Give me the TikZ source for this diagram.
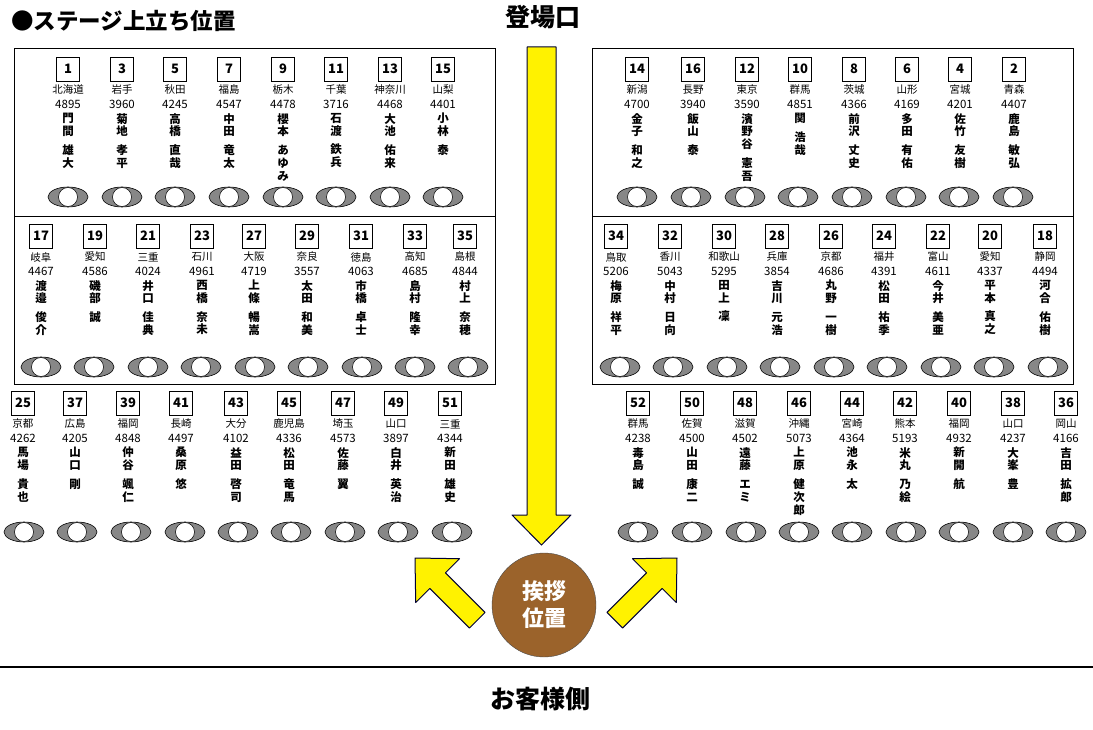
\documentclass[tikz,border=0pt]{standalone}
\usepackage{fontspec}
\setmainfont{Noto Sans CJK JP}
\begin{document}
\begin{tikzpicture}[x=1pt,y=-1pt,
 numbox/.style={draw,line width=0.8pt,minimum width=23pt,minimum height=24pt,inner sep=0pt,font=\fontsize{13}{13}\selectfont\bfseries},
 pref/.style={inner sep=0pt,font=\fontsize{10.5}{11}\selectfont},
 score/.style={inner sep=0pt,font=\fontsize{11.5}{11.5}\selectfont},
 nm/.style={inner sep=0pt,align=center,anchor=north,font=\fontsize{11.5}{12.8}\selectfont\bfseries},
 seat/.style={draw=black,fill=gray!95!black!90,line width=0.6pt},
 frame/.style={draw,line width=0.9pt},
 yarrow/.style={fill=yellow,draw=black!80!blue,line width=1pt,line join=round}]
\useasboundingbox (0,0) rectangle (1093,730);
\newcommand\Pl[7]{%
 \node[numbox] (b#3) at (#1,#2) {#3};
 \node[pref] (p#3) at (#1,#2+21) {#4};
 \node[score] (s#3) at (#1,#2+35) {#5};
 \node[nm] (n#3) at (#1,#2+44) {#6\\[6pt]#7};}
\newcommand\Seats[2]{\foreach \xx in {#1}{\draw[seat] (\xx,#2) ellipse (20 and 10); \fill[white,draw=black,line width=0.5pt] (\xx,#2) circle (9.5);}}
% frames
\draw[frame] (14,48) rectangle (495,384); \draw[frame] (14,216) -- (495,216);
\draw[frame] (592,48) rectangle (1073,384); \draw[frame] (592,216) -- (1073,216);
% row 1 left
\Pl{68}{69}{1}{北海道}{4895}{門\\間}{雄\\大}
\Pl{122}{69}{3}{岩手}{3960}{菊\\地}{孝\\平}
\Pl{175}{69}{5}{秋田}{4245}{高\\橋}{直\\哉}
\Pl{229}{69}{7}{福島}{4547}{中\\田}{竜\\太}
\Pl{283}{69}{9}{栃木}{4478}{櫻\\本}{あ\\ゆ\\み}
\Pl{336}{69}{11}{千葉}{3716}{石\\渡}{鉄\\兵}
\Pl{390}{69}{13}{神奈川}{4468}{大\\池}{佑\\来}
\Pl{443}{69}{15}{山梨}{4401}{小\\林}{泰}
% row 1 right
\Pl{637}{69}{14}{新潟}{4700}{金\\子}{和\\之}
\Pl{693}{69}{16}{長野}{3940}{飯\\山}{泰}
\Pl{747}{69}{12}{東京}{3590}{濱\\野\\谷}{憲\\吾}
\Pl{800}{69}{10}{群馬}{4851}{関}{浩\\哉}
\Pl{854}{69}{8}{茨城}{4366}{前\\沢}{丈\\史}
\Pl{907}{69}{6}{山形}{4169}{多\\田}{有\\佑}
\Pl{960}{69}{4}{宮城}{4201}{佐\\竹}{友\\樹}
\Pl{1014}{69}{2}{青森}{4407}{鹿\\島}{敏\\弘}
% row 2 left
\Pl{41}{236}{17}{岐阜}{4467}{渡\\邉}{俊\\介}
\Pl{95}{236}{19}{愛知}{4586}{磯\\部}{誠}
\Pl{148}{236}{21}{三重}{4024}{井\\口}{佳\\典}
\Pl{202}{236}{23}{石川}{4961}{西\\橋}{奈\\未}
\Pl{254}{236}{27}{大阪}{4719}{上\\條}{暢\\嵩}
\Pl{307}{236}{29}{奈良}{3557}{太\\田}{和\\美}
\Pl{361}{236}{31}{徳島}{4063}{市\\橋}{卓\\士}
\Pl{415}{236}{33}{高知}{4685}{島\\村}{隆\\幸}
\Pl{465}{236}{35}{島根}{4844}{村\\上}{奈\\穂}
% row 2 right
\Pl{616}{236}{34}{鳥取}{5206}{梅\\原}{祥\\平}
\Pl{670}{236}{32}{香川}{5043}{中\\村}{日\\向}
\Pl{724}{236}{30}{和歌山}{5295}{田\\上}{凜}
\Pl{777}{236}{28}{兵庫}{3854}{吉\\川}{元\\浩}
\Pl{831}{236}{26}{京都}{4686}{丸\\野}{一\\樹}
\Pl{884}{236}{24}{福井}{4391}{松\\田}{祐\\季}
\Pl{938}{236}{22}{富山}{4611}{今\\井}{美\\亜}
\Pl{990}{236}{20}{愛知}{4337}{平\\本}{真\\之}
\Pl{1045}{236}{18}{静岡}{4494}{河\\合}{佑\\樹}
% row 3 left
\Pl{23}{403}{25}{京都}{4262}{馬\\場}{貴\\也}
\Pl{75}{403}{37}{広島}{4205}{山\\口}{剛}
\Pl{128}{403}{39}{福岡}{4848}{仲\\谷}{颯\\仁}
\Pl{181}{403}{41}{長崎}{4497}{桑\\原}{悠}
\Pl{236}{403}{43}{大分}{4102}{益\\田}{啓\\司}
\Pl{289}{403}{45}{鹿児島}{4336}{松\\田}{竜\\馬}
\Pl{343}{403}{47}{埼玉}{4573}{佐\\藤}{翼}
\Pl{396}{403}{49}{山口}{3897}{白\\井}{英\\治}
\Pl{450}{403}{51}{三重}{4344}{新\\田}{雄\\史}
% row 3 right
\Pl{638}{403}{52}{群馬}{4238}{毒\\島}{誠}
\Pl{692}{403}{50}{佐賀}{4500}{山\\田}{康\\二}
\Pl{745}{403}{48}{滋賀}{4502}{遠\\藤}{エ\\ミ}
\Pl{799}{403}{46}{沖縄}{5073}{上\\原}{健\\次\\郎}
\Pl{852}{403}{44}{宮崎}{4364}{池\\永}{太}
\Pl{905}{403}{42}{熊本}{5193}{米\\丸}{乃\\絵}
\Pl{959}{403}{40}{福岡}{4932}{新\\開}{航}
\Pl{1013}{403}{38}{山口}{4237}{大\\峯}{豊}
\Pl{1066}{403}{36}{岡山}{4166}{吉\\田}{拡\\郎}
% seats
\Seats{68,122,175,229,283,336,390,443}{197}
\Seats{637,691,745,798,852,906,959,1013}{197}
\Seats{41,94,148,201,255,308,362,415,468}{367}
\Seats{620,673,727,780,834,887,941,994,1048}{367}
\Seats{24,77,131,185,238,291,345,398,452}{532}
\Seats{638,692,746,799,852,906,959,1013,1066}{532}
% arrows
\draw[yarrow] (527,47) -- (556,47) -- (556,515) -- (571,515) -- (541.5,545) -- (512,515) -- (527,515) -- cycle;
\begin{scope}[shift={(415,558)},rotate=-45]
\draw[yarrow] (0,0) -- (32,-31) -- (32,-11) -- (88,-11) -- (88,11) -- (32,11) -- (32,31) -- cycle;
\end{scope}
\begin{scope}[shift={(677,558)},rotate=-135]
\draw[yarrow] (0,0) -- (32,31) -- (32,11) -- (88,11) -- (88,-11) -- (32,-11) -- (32,-31) -- cycle;
\end{scope}
\node[circle,fill=brown!75!black!90!orange,draw=black!70,minimum size=104pt,inner sep=0pt,align=center,text=white,font=\fontsize{22}{27}\selectfont\bfseries] (aisatsu) at (544,605) {挨拶\\位置};
\draw[line width=1.3pt] (0,667) -- (1093,667);
\node[font=\fontsize{25}{25}\selectfont\bfseries] (okyaku) at (540,699) {お客様側};
\node[font=\fontsize{25}{25}\selectfont\bfseries] (toujou) at (543,17) {登場口};
\node[font=\fontsize{22.5}{22.5}\selectfont\bfseries,anchor=west,inner sep=0pt] (title) at (11,21) {●ステージ上立ち位置};
\end{tikzpicture}
\end{document}
